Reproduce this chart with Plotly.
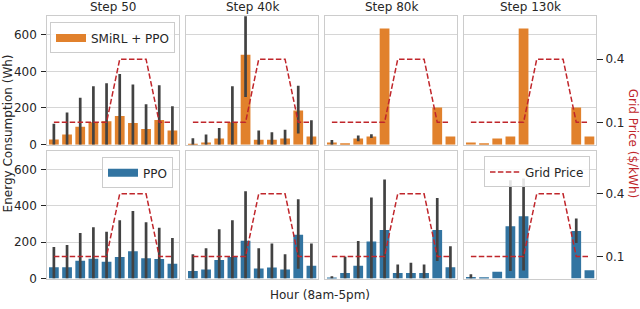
import plotly.graph_objects as go

# ---------------- data ----------------
hours = ["8am", "9am", "10am", "11am", "12pm", "1pm", "2pm", "3pm", "4pm", "5pm"]
steps = ["Step 50", "Step 40k", "Step 80k", "Step 130k"]
grid_price = [0.1, 0.1, 0.1, 0.1, 0.1, 0.4, 0.4, 0.4, 0.1, 0.1]

# SMiRL + PPO (mean, upper CI, lower CI) in Wh
smirl_50 = [28, 55, 98, 122, 128, 156, 118, 86, 134, 77]
smirl_50_hi = [114, 176, 256, 319, 335, 385, 328, 221, 324, 210]
smirl_50_lo = [0, 0, 0, 0, 0, 0, 0, 0, 0, 0]

smirl_40k = [3, 12, 34, 122, 491, 27, 27, 33, 187, 45]
smirl_40k_hi = [35, 55, 91, 319, 700, 77, 68, 81, 322, 133]
smirl_40k_lo = [0, 0, 0, 0, 260, 0, 0, 0, 61, 0]

smirl_80k = [12, 7, 34, 45, 634, 0, 0, 0, 203, 45]
smirl_80k_hi = [25, 7, 50, 57, 634, 0, 0, 0, 203, 45]
smirl_80k_lo = [0, 7, 18, 36, 634, 0, 0, 0, 203, 45]

smirl_130k = [12, 7, 34, 45, 634, 0, 0, 0, 203, 45]
smirl_130k_hi = [12, 7, 34, 45, 634, 0, 0, 0, 203, 45]
smirl_130k_lo = [12, 7, 34, 45, 634, 0, 0, 0, 203, 45]

# PPO (mean, upper CI, lower CI) in Wh
ppo_50 = [62, 62, 98, 109, 93, 118, 150, 112, 107, 82]
ppo_50_hi = [173, 184, 250, 282, 257, 320, 371, 309, 279, 223]
ppo_50_lo = [0, 0, 0, 0, 0, 0, 0, 0, 0, 0]

ppo_40k = [41, 50, 102, 118, 208, 55, 61, 50, 241, 71]
ppo_40k_hi = [134, 166, 271, 320, 480, 166, 193, 134, 436, 193]
ppo_40k_lo = [0, 0, 0, 0, 0, 0, 0, 0, 54, 0]

ppo_80k = [3, 30, 71, 204, 267, 30, 30, 30, 267, 62]
ppo_80k_hi = [12, 120, 207, 445, 545, 77, 87, 77, 443, 177]
ppo_80k_lo = [0, 0, 0, 0, 0, 0, 0, 0, 96, 0]

ppo_130k = [9, 7, 37, 288, 343, 0, 0, 0, 262, 46]
ppo_130k_hi = [24, 7, 37, 541, 550, 0, 0, 0, 330, 46]
ppo_130k_lo = [0, 7, 37, 41, 44, 0, 0, 0, 196, 46]

smirl_rows = [(smirl_50, smirl_50_hi, smirl_50_lo),
              (smirl_40k, smirl_40k_hi, smirl_40k_lo),
              (smirl_80k, smirl_80k_hi, smirl_80k_lo),
              (smirl_130k, smirl_130k_hi, smirl_130k_lo)]
ppo_rows = [(ppo_50, ppo_50_hi, ppo_50_lo),
            (ppo_40k, ppo_40k_hi, ppo_40k_lo),
            (ppo_80k, ppo_80k_hi, ppo_80k_lo),
            (ppo_130k, ppo_130k_hi, ppo_130k_lo)]

# ---------------- style ----------------
W, H = 640, 309
ORANGE = "#e1812c"
BLUE = "#3274a1"
ERR = "#424242"
RED = "#c0262b"
TXT = "#262626"
FRAME = "#cccccc"
GRID = "#d6d6d6"
FONT = "DejaVu Sans"

panel_left = [47.3 + c * 139.0 for c in range(4)]
panel_w = 131.7
row_px = [(16, 148), (154, 285)]

fig = go.Figure()
layout = {}

for r in range(2):
    rows = smirl_rows if r == 0 else ppo_rows
    color = ORANGE if r == 0 else BLUE
    name = "SMiRL + PPO" if r == 0 else "PPO"
    for c in range(4):
        i = r * 4 + c
        xn = i + 1
        ye = 2 * i + 1
        yp = 2 * i + 2
        xref = "x" if xn == 1 else f"x{xn}"
        yeref = "y" if ye == 1 else f"y{ye}"
        ypref = f"y{yp}"
        x0 = panel_left[c] / W
        x1 = (panel_left[c] + panel_w) / W
        yb = 1 - row_px[r][1] / H
        yt = 1 - row_px[r][0] / H

        mean, hi, lo = rows[c]
        plus = [h - m for h, m in zip(hi, mean)]
        minus = [m - l for m, l in zip(mean, lo)]
        fig.add_trace(go.Bar(
            x=hours, y=mean, width=0.74,
            marker=dict(color=color, line=dict(width=0)),
            error_y=dict(type="data", symmetric=False, array=plus,
                         arrayminus=minus, color=ERR, thickness=2.7, width=0),
            name=name, showlegend=False,
            xaxis=xref, yaxis=yeref,
        ))
        if c == 0:
            # legend patch (wide, flat rectangle like a matplotlib bar patch)
            fig.add_trace(go.Scatter(
                x=[None], y=[None], mode="lines",
                line=dict(color=color, width=8),
                name=name, showlegend=True,
                legend="legend" if r == 0 else "legend2",
                xaxis=xref, yaxis=yeref,
            ))
        show_line_leg = (r == 1 and c == 3)
        fig.add_trace(go.Scatter(
            x=hours, y=grid_price, mode="lines",
            line=dict(color=RED, width=1.5, dash="5.5px,2.4px"),
            name="Grid Price", showlegend=show_line_leg, legend="legend3",
            xaxis=xref, yaxis=ypref,
        ))

        xkey = "xaxis" if xn == 1 else f"xaxis{xn}"
        layout[xkey] = dict(
            domain=[x0, x1], anchor=yeref, type="category",
            categoryorder="array", categoryarray=hours,
            range=[-0.5, 9.5], showticklabels=False, ticks="",
            showgrid=False, zeroline=False,
            showline=True, mirror=True, linecolor=FRAME, linewidth=1,
        )
        yekey = "yaxis" if ye == 1 else f"yaxis{ye}"
        layout[yekey] = dict(
            domain=[yb, yt], anchor=xref, range=[0, 704],
            tickvals=[0, 200, 400, 600],
            showticklabels=(c == 0), ticks="outside" if c == 0 else "",
            ticklen=5, tickwidth=1, tickcolor=TXT, ticklabelstandoff=2,
            tickfont=dict(family=FONT, size=12, color=TXT),
            showgrid=True, gridcolor=GRID, gridwidth=1, zeroline=False,
            showline=True, mirror=True, linecolor=FRAME, linewidth=1,
        )
        layout[f"yaxis{yp}"] = dict(
            overlaying=yeref, anchor=xref, side="right",
            range=[-0.006, 0.607], tickvals=[0.1, 0.4],
            showticklabels=(c == 3), ticks="outside" if c == 3 else "",
            ticklen=6, tickwidth=1.2, tickcolor=TXT,
            tickfont=dict(family=FONT, size=12, color=TXT),
            showgrid=False, zeroline=False, showline=False,
        )

annotations = []
for c in range(4):
    cx = (panel_left[c] + panel_w / 2) / W
    annotations.append(dict(text=steps[c], x=cx, y=1 - 7.5 / H, xref="paper", yref="paper",
                            showarrow=False, xanchor="center", yanchor="middle",
                            font=dict(family=FONT, size=12, color=TXT)))
annotations.append(dict(text="Hour (8am-5pm)", x=320 / W, y=1 - 301.5 / H, xref="paper", yref="paper",
                        showarrow=False, xanchor="center", yanchor="middle",
                        font=dict(family=FONT, size=12, color=TXT)))
annotations.append(dict(text="Energy Consumption (Wh)", x=7.5 / W, y=1 - 137 / H, xref="paper", yref="paper",
                        showarrow=False, xanchor="center", yanchor="middle", textangle=-90,
                        font=dict(family=FONT, size=12, color=TXT)))
annotations.append(dict(text="Grid Price ($/kWh)", x=633 / W, y=1 - 147 / H, xref="paper", yref="paper",
                        showarrow=False, xanchor="center", yanchor="middle", textangle=90,
                        font=dict(family=FONT, size=12, color=RED)))

leg_common = dict(bgcolor="rgba(255,255,255,0.85)", bordercolor=FRAME, borderwidth=1,
                  font=dict(family=FONT, size=12, color=TXT), itemwidth=30)

fig.update_layout(
    width=W, height=H, autosize=False,
    margin=dict(l=0, r=0, t=0, b=0),
    paper_bgcolor="white", plot_bgcolor="white",
    font=dict(family=FONT, size=12, color=TXT),
    annotations=annotations,
    legend=dict(x=50 / W, y=1 - 23 / H, xanchor="left", yanchor="top", **leg_common),
    legend2=dict(x=173 / W, y=1 - 161 / H, xanchor="right", yanchor="top", **leg_common),
    legend3=dict(x=590 / W, y=1 - 160 / H, xanchor="right", yanchor="top", **leg_common),
    **layout,
)

fig.write_html("out.html", config={"displayModeBar": False},
               post_script="document.body.style.margin='0';document.body.style.padding='0';")
